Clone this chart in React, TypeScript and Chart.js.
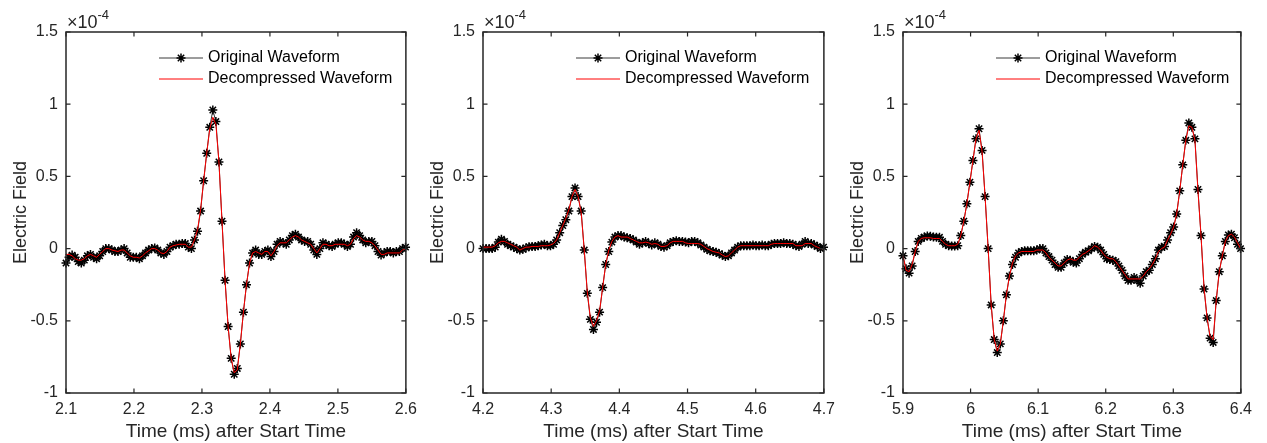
import React, { useEffect, useRef } from "react";
import { Chart, registerables } from "chart.js";

Chart.register(...registerables);

// ---------- data (field values in units of 1e-4) ----------
const SAMPLE_STEP_MS = 0.0045;

const startTimes = [2.1, 4.2, 5.9];

const xTicks1 = [2.1, 2.2, 2.3, 2.4, 2.5, 2.6];
const xTicks2 = [4.2, 4.3, 4.4, 4.5, 4.6, 4.7];
const xTicks3 = [5.9, 6.0, 6.1, 6.2, 6.3, 6.4];
const yTicks = [-1, -0.5, 0, 0.5, 1, 1.5];

const original1 = [
  -0.10, -0.06, -0.045, -0.06, -0.09, -0.10, -0.08, -0.05, -0.04, -0.06,
  -0.07, -0.05, -0.02, 0.0, 0.0, -0.01, -0.02, -0.02, -0.01, 0.0,
  -0.03, -0.06, -0.06, -0.06, -0.07, -0.05, -0.03, -0.01, 0.0, 0.005,
  -0.01, -0.03, -0.04, -0.02, 0.01, 0.02, 0.03, 0.03, 0.035, 0.035,
  0.01, 0.0, 0.06, 0.12, 0.26, 0.47, 0.66, 0.84, 0.96, 0.88,
  0.60, 0.19, -0.22, -0.54, -0.76, -0.87, -0.83, -0.66, -0.44, -0.25,
  -0.10, -0.03, -0.01, -0.04, -0.04, -0.02, -0.01, -0.055, -0.02, 0.03,
  0.05, 0.04, 0.03, 0.06, 0.09, 0.10, 0.08, 0.06, 0.05, 0.05,
  0.03, -0.01, -0.04, 0.0, 0.04, 0.03, 0.02, 0.015, 0.03, 0.04,
  0.04, 0.03, 0.015, 0.03, 0.08, 0.11, 0.09, 0.06, 0.04, 0.05,
  0.05, 0.02, -0.02, -0.045, -0.03, -0.02, -0.02, -0.03, -0.02, -0.02,
  0.0, 0.01,
];
const decompressed1 = [
  -0.04, -0.04, -0.05, -0.07, -0.08, -0.08, -0.07, -0.05, -0.04, -0.05,
  -0.06, -0.04, -0.02, 0.0, 0.0, -0.01, -0.015, -0.02, -0.01, -0.01,
  -0.03, -0.05, -0.06, -0.06, -0.065, -0.05, -0.03, -0.015, 0.0, 0.0,
  -0.01, -0.03, -0.035, -0.02, 0.01, 0.02, 0.025, 0.03, 0.03, 0.03,
  0.01, 0.01, 0.06, 0.13, 0.27, 0.47, 0.66, 0.83, 0.91, 0.86,
  0.60, 0.19, -0.22, -0.54, -0.76, -0.86, -0.84, -0.66, -0.44, -0.25,
  -0.10, -0.03, -0.02, -0.03, -0.04, -0.02, -0.02, -0.05, -0.02, 0.02,
  0.04, 0.04, 0.04, 0.06, 0.08, 0.09, 0.08, 0.06, 0.05, 0.04,
  0.03, 0.0, -0.03, 0.0, 0.03, 0.03, 0.02, 0.02, 0.03, 0.03,
  0.03, 0.03, 0.02, 0.03, 0.07, 0.09, 0.08, 0.06, 0.05, 0.05,
  0.04, 0.02, -0.01, -0.04, -0.04, -0.03, -0.03, -0.03, -0.03, -0.03,
  -0.01, 0.0,
];

const original2 = [
  0.0, 0.0, 0.0, 0.0, 0.01, 0.045, 0.065, 0.05, 0.03, 0.02,
  0.01, 0.0, -0.01, -0.005, 0.005, 0.013, 0.015, 0.015, 0.02, 0.025,
  0.03, 0.02, 0.02, 0.03, 0.06, 0.11, 0.16, 0.20, 0.26, 0.36,
  0.42, 0.36, 0.26, -0.01, -0.31, -0.49, -0.56, -0.51, -0.44, -0.27,
  -0.11, -0.02, 0.045, 0.08, 0.09, 0.09, 0.08, 0.075, 0.07, 0.06,
  0.045, 0.03, 0.04, 0.05, 0.035, 0.025, 0.04, 0.03, 0.015, 0.01,
  0.02, 0.04, 0.05, 0.055, 0.05, 0.05, 0.045, 0.04, 0.05, 0.05,
  0.04, 0.025, 0.01, -0.005, -0.015, -0.02, -0.025, -0.035, -0.045, -0.055,
  -0.05, -0.03, -0.01, 0.01, 0.02, 0.02, 0.02, 0.02, 0.025, 0.02,
  0.02, 0.025, 0.02, 0.02, 0.03, 0.035, 0.035, 0.035, 0.04, 0.035,
  0.035, 0.03, 0.02, 0.015, 0.03, 0.05, 0.035, 0.035, 0.025, 0.015,
  0.0, 0.01,
];
const decompressed2 = [
  0.01, 0.01, 0.01, 0.01, 0.02, 0.04, 0.05, 0.05, 0.04, 0.03,
  0.02, 0.01, -0.01, 0.0, 0.01, 0.01, 0.015, 0.015, 0.015, 0.02,
  0.02, 0.02, 0.025, 0.035, 0.06, 0.11, 0.16, 0.21, 0.27, 0.36,
  0.41, 0.36, 0.25, -0.01, -0.30, -0.48, -0.54, -0.50, -0.43, -0.27,
  -0.11, -0.01, 0.05, 0.08, 0.09, 0.08, 0.08, 0.08, 0.07, 0.06,
  0.05, 0.04, 0.04, 0.045, 0.04, 0.03, 0.035, 0.03, 0.015, 0.015,
  0.02, 0.04, 0.05, 0.05, 0.05, 0.05, 0.04, 0.035, 0.035, 0.035,
  0.035, 0.03, 0.015, 0.0, -0.01, -0.02, -0.025, -0.03, -0.045, -0.055,
  -0.05, -0.03, -0.01, 0.01, 0.02, 0.02, 0.02, 0.02, 0.02, 0.02,
  0.02, 0.02, 0.02, 0.02, 0.03, 0.035, 0.035, 0.035, 0.035, 0.035,
  0.035, 0.035, 0.02, 0.02, 0.02, 0.035, 0.035, 0.035, 0.02, 0.01,
  0.0, 0.0,
];

const original3 = [
  -0.05, -0.14, -0.17, -0.12, -0.02, 0.05, 0.07, 0.08, 0.087, 0.085,
  0.08, 0.078, 0.078, 0.05, 0.03, 0.02, 0.018, 0.018, 0.02, 0.09,
  0.19, 0.31, 0.46, 0.61, 0.76, 0.83, 0.68, 0.36, 0.0, -0.39,
  -0.63, -0.72, -0.66, -0.50, -0.32, -0.19, -0.11, -0.06, -0.03, -0.02,
  -0.015, -0.015, -0.015, -0.015, -0.01, 0.0, 0.0, -0.03, -0.055, -0.08,
  -0.11, -0.13, -0.13, -0.10, -0.075, -0.08, -0.095, -0.10, -0.07, -0.04,
  -0.025, -0.015, 0.0, 0.015, 0.01, -0.01, -0.04, -0.07, -0.075, -0.08,
  -0.09, -0.12, -0.15, -0.19, -0.22, -0.22, -0.20, -0.22, -0.24, -0.19,
  -0.16, -0.15, -0.11, -0.07, -0.01, 0.01, 0.015, 0.06, 0.11, 0.15,
  0.24, 0.40, 0.58, 0.75, 0.87, 0.84, 0.76, 0.41, 0.09, -0.28,
  -0.48, -0.62, -0.65, -0.36, -0.16, -0.05, 0.05, 0.095, 0.10, 0.075,
  0.03, 0.0,
];
const decompressed3 = [
  -0.05, -0.15, -0.16, -0.11, -0.02, 0.05, 0.07, 0.075, 0.075, 0.075,
  0.07, 0.07, 0.07, 0.05, 0.03, 0.02, 0.02, 0.02, 0.03, 0.09,
  0.19, 0.31, 0.46, 0.61, 0.76, 0.82, 0.67, 0.36, 0.0, -0.39,
  -0.63, -0.71, -0.66, -0.50, -0.32, -0.19, -0.10, -0.05, -0.03, -0.02,
  -0.02, -0.02, -0.02, -0.02, -0.01, -0.01, -0.01, -0.03, -0.06, -0.08,
  -0.10, -0.12, -0.12, -0.10, -0.08, -0.07, -0.08, -0.08, -0.06, -0.04,
  -0.03, -0.015, 0.0, 0.02, 0.01, -0.01, -0.04, -0.06, -0.07, -0.07,
  -0.09, -0.12, -0.15, -0.18, -0.21, -0.21, -0.21, -0.21, -0.21, -0.19,
  -0.16, -0.14, -0.11, -0.07, -0.02, 0.0, 0.01, 0.06, 0.10, 0.15,
  0.24, 0.40, 0.58, 0.75, 0.85, 0.84, 0.75, 0.40, 0.09, -0.27,
  -0.48, -0.61, -0.63, -0.36, -0.16, -0.05, 0.05, 0.09, 0.10, 0.08,
  0.04, 0.0,
];

const legendLabels = ["Original Waveform", "Decompressed Waveform"];
const xAxisTitle = "Time (ms) after Start Time";
const yAxisTitle = "Electric Field";
const exponentText = "-4";

// ---------- styling ----------
const FONT = "'Liberation Sans', Arial, Helvetica, sans-serif";
const AXIS_COLOR = "#262626";
const CANVAS_H = 443;
const AXIS_TOP = 32;
const AXIS_BOTTOM = 393;
const Y_AXIS_W = 66;
const RIGHT_PAD = 14;

const panels = [
  { start: startTimes[0], xTicks: xTicks1, original: original1, decompressed: decompressed1, axisLeft: 66, axisRight: 410 },
  { start: startTimes[1], xTicks: xTicks2, original: original2, decompressed: decompressed2, axisLeft: 483, axisRight: 828 },
  { start: startTimes[2], xTicks: xTicks3, original: original3, decompressed: decompressed3, axisLeft: 903, axisRight: 1245 },
];

function drawStar(ctx: CanvasRenderingContext2D, x: number, y: number, r: number) {
  ctx.beginPath();
  ctx.moveTo(x - r, y);
  ctx.lineTo(x + r, y);
  ctx.moveTo(x, y - r);
  ctx.lineTo(x, y + r);
  const d = r * Math.SQRT1_2;
  ctx.moveTo(x - d, y - d);
  ctx.lineTo(x + d, y + d);
  ctx.moveTo(x - d, y + d);
  ctx.lineTo(x + d, y - d);
  ctx.stroke();
}

const decorPlugin = {
  id: "matlabDecor",
  afterDraw(chart: any, _args: any, opts: any) {
    const { ctx, chartArea } = chart;
    const { left, right, top, bottom } = chartArea;
    const xs = chart.scales.x;
    const ys = chart.scales.y;
    ctx.save();
    // box
    ctx.strokeStyle = AXIS_COLOR;
    ctx.lineWidth = 1.5;
    ctx.strokeRect(left, top, right - left, bottom - top);
    // inward ticks
    const tl = 4.5;
    ctx.lineWidth = 1.2;
    ctx.beginPath();
    for (const v of opts.xTicks) {
      const px = xs.getPixelForValue(v);
      ctx.moveTo(px, bottom);
      ctx.lineTo(px, bottom - tl);
      ctx.moveTo(px, top);
      ctx.lineTo(px, top + tl);
    }
    for (const v of yTicks) {
      const py = ys.getPixelForValue(v);
      ctx.moveTo(left, py);
      ctx.lineTo(left + tl, py);
      ctx.moveTo(right, py);
      ctx.lineTo(right - tl, py);
    }
    ctx.stroke();

    // exponent label
    ctx.fillStyle = AXIS_COLOR;
    ctx.textBaseline = "alphabetic";
    ctx.textAlign = "left";
    ctx.font = `18px ${FONT}`;
    const base = "\u00d710";
    ctx.fillText(base, left + 1, top - 4);
    const w = ctx.measureText(base).width;
    ctx.font = `13px ${FONT}`;
    ctx.fillText(exponentText, left + 1 + w, top - 13);

    // legend
    const lx0 = left + 93;
    const lx1 = left + 137;
    const rows = [top + 26, top + 47];
    ctx.lineWidth = 1;
    ctx.strokeStyle = "#3a3a3a";
    ctx.beginPath();
    ctx.moveTo(lx0, rows[0]);
    ctx.lineTo(lx1, rows[0]);
    ctx.stroke();
    ctx.strokeStyle = "#000000";
    ctx.lineWidth = 1.5;
    drawStar(ctx, (lx0 + lx1) / 2, rows[0], 4.5);
    ctx.strokeStyle = "#ff0000";
    ctx.lineWidth = 1;
    ctx.beginPath();
    ctx.moveTo(lx0, rows[1]);
    ctx.lineTo(lx1, rows[1]);
    ctx.stroke();
    ctx.fillStyle = "#000000";
    ctx.font = `16px ${FONT}`;
    ctx.textBaseline = "middle";
    ctx.fillText(legendLabels[0], left + 142, rows[0]);
    ctx.fillText(legendLabels[1], left + 142, rows[1]);
    ctx.restore();
  },
};

function fmtTick(v: number) {
  return String(Math.round(v * 10) / 10);
}

function Panel({ p }: { p: (typeof panels)[number] }) {
  const ref = useRef<HTMLCanvasElement | null>(null);
  const width = p.axisRight - p.axisLeft + Y_AXIS_W + RIGHT_PAD;

  useEffect(() => {
    if (!ref.current) return;
    const times = p.original.map((_, i) => p.start + i * SAMPLE_STEP_MS);
    const chart = new Chart(ref.current, {
      type: "line",
      data: {
        datasets: [
          {
            label: legendLabels[1],
            data: p.decompressed.map((v, i) => ({ x: times[i], y: v })),
            borderColor: "#ff0000",
            borderWidth: 1,
            pointRadius: 0,
            tension: 0,
            order: 0,
            clip: false,
          },
          {
            label: legendLabels[0],
            data: p.original.map((v, i) => ({ x: times[i], y: v })),
            borderColor: "#000000",
            borderWidth: 0.8,
            pointStyle: "star",
            pointRadius: 4.5,
            pointBorderWidth: 1.5,
            pointBorderColor: "#000000",
            pointBackgroundColor: "#000000",
            tension: 0,
            order: 1,
            clip: false,
          },
        ],
      },
      options: {
        responsive: false,
        animation: false,
        events: [],
        layout: { padding: { top: AXIS_TOP, right: RIGHT_PAD, left: 0, bottom: 0 } },
        plugins: {
          legend: { display: false },
          tooltip: { enabled: false },
          matlabDecor: { xTicks: p.xTicks },
        } as any,
        scales: {
          x: {
            type: "linear",
            min: p.xTicks[0],
            max: p.xTicks[p.xTicks.length - 1],
            afterBuildTicks: (s: any) => {
              s.ticks = p.xTicks.map((v) => ({ value: v }));
            },
            afterFit: (s: any) => {
              s.height = CANVAS_H - AXIS_BOTTOM;
            },
            grid: { display: false, drawTicks: false },
            border: { display: false },
            ticks: {
              autoSkip: false,
              maxRotation: 0,
              padding: 7,
              color: AXIS_COLOR,
              font: { size: 16, family: FONT },
              callback: (v: any) => fmtTick(Number(v)),
            },
            title: {
              display: true,
              text: xAxisTitle,
              color: AXIS_COLOR,
              font: { size: 19, family: FONT },
              padding: { top: 0, bottom: 0 },
            },
          },
          y: {
            type: "linear",
            min: yTicks[0],
            max: yTicks[yTicks.length - 1],
            afterBuildTicks: (s: any) => {
              s.ticks = yTicks.map((v) => ({ value: v }));
            },
            afterFit: (s: any) => {
              s.width = Y_AXIS_W;
            },
            grid: { display: false, drawTicks: false },
            border: { display: false },
            ticks: {
              padding: 8,
              color: AXIS_COLOR,
              font: { size: 16, family: FONT },
              callback: (v: any) => String(v),
            },
            title: {
              display: true,
              text: yAxisTitle,
              color: AXIS_COLOR,
              font: { size: 18, family: FONT },
              padding: { top: 10, bottom: 0 },
            },
          },
        },
      },
      plugins: [decorPlugin],
    });
    return () => chart.destroy();
  }, []);

  return (
    <canvas
      ref={ref}
      width={width}
      height={CANVAS_H}
      style={{ position: "absolute", left: p.axisLeft - Y_AXIS_W, top: 0, width, height: CANVAS_H }}
    />
  );
}

export default function App() {
  return (
    <div style={{ position: "absolute", left: 0, top: 0, width: 1267, height: 443, background: "#ffffff" }}>
      {panels.map((p, i) => (
        <Panel key={i} p={p} />
      ))}
    </div>
  );
}
